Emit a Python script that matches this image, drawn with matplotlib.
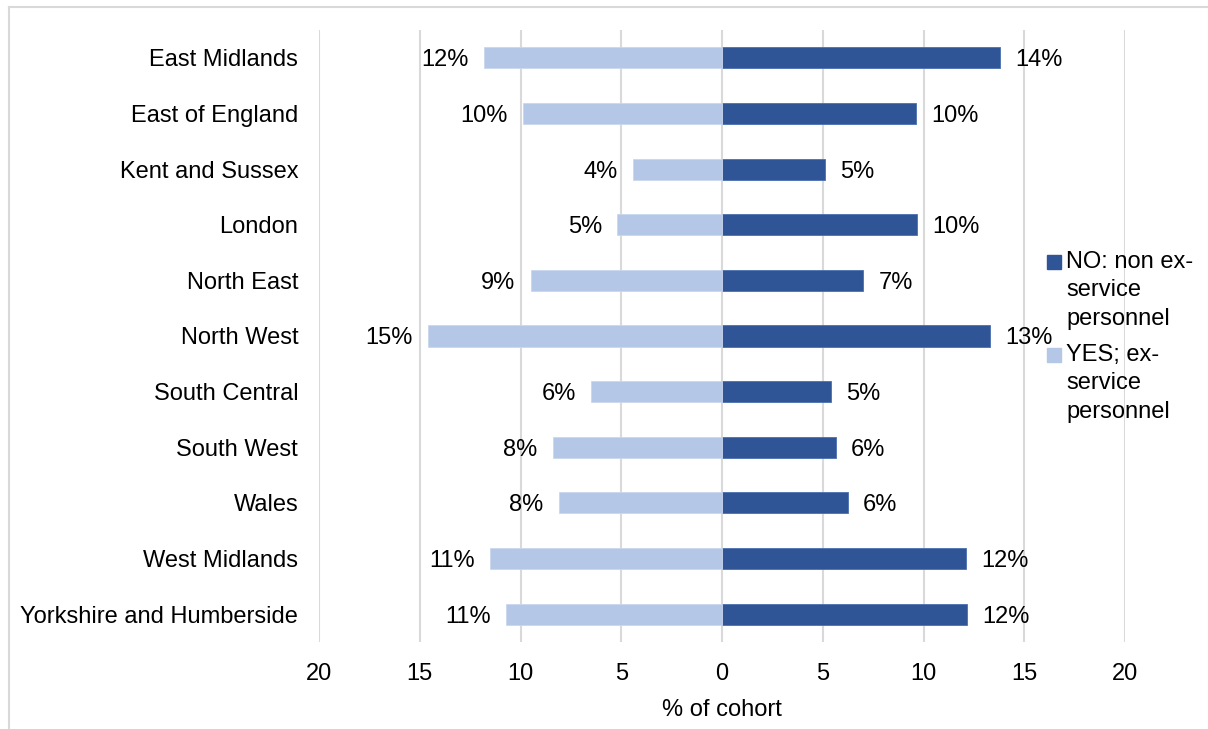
import matplotlib.pyplot as plt
from matplotlib.patches import Rectangle

plt.rcParams["font.family"] = ["Liberation Sans", "DejaVu Sans"]

# --- data ---
regions = [
    "East Midlands", "East of England", "Kent and Sussex", "London",
    "North East", "North West", "South Central", "South West",
    "Wales", "West Midlands", "Yorkshire and Humberside",
]
# YES; ex-service personnel (drawn to the left)
yes_vals = [11.8, 9.9, 4.4, 5.2, 9.5, 14.6, 6.5, 8.4, 8.1, 11.5, 10.7]
yes_labels = ["12%", "10%", "4%", "5%", "9%", "15%", "6%", "8%", "8%", "11%", "11%"]
# NO: non ex-service personnel (drawn to the right)
no_vals = [13.8, 9.65, 5.1, 9.7, 7.0, 13.3, 5.4, 5.65, 6.25, 12.1, 12.15]
no_labels = ["14%", "10%", "5%", "10%", "7%", "13%", "5%", "6%", "6%", "12%", "12%"]

x_ticks = [-20, -15, -10, -5, 0, 5, 10, 15, 20]
x_ticklabels = ["20", "15", "10", "5", "0", "5", "10", "15", "20"]

dark = "#2F5597"
light = "#B4C7E7"
grid_c = "#D9D9D9"
fs = 17

fig = plt.figure(figsize=(12.08, 7.29), dpi=100)
ax = fig.add_axes([319 / 1208, 87 / 729, 806 / 1208, 612 / 729])

y = list(range(len(regions)))
neg = [-v for v in yes_vals]
b_no = ax.barh(y, no_vals, height=0.38, color=dark, edgecolor="#4A6FAF",
               linewidth=0.6, zorder=3)
b_yes = ax.barh(y, neg, height=0.38, color=light, edgecolor="#C9D7EE",
                linewidth=0.6, zorder=3)
txts = ax.bar_label(b_no, labels=no_labels, padding=11, fontsize=fs)
txts += ax.bar_label(b_yes, labels=yes_labels, padding=11, fontsize=fs)
for t in txts:
    t.set_va("center_baseline")

ax.set_xlim(-20, 20)
ax.set_ylim(len(regions) - 0.5, -0.5)
ax.set_xticks(x_ticks)
ax.set_xticklabels(x_ticklabels)
ax.set_yticks(y)
ax.set_yticklabels(regions)
ax.tick_params(axis="both", length=0, labelsize=fs)
ax.tick_params(axis="y", pad=15)
ax.tick_params(axis="x", pad=15)
ax.xaxis.grid(True, color=grid_c, linewidth=1.5, zorder=0)
ax.set_axisbelow(True)
for s in ax.spines.values():
    s.set_visible(False)
ax.set_xlabel("% of cohort", fontsize=fs, labelpad=10)

# legend drawn by hand so the swatch sits on the first text line
leg = [(dark, "NO: non ex-\nservice\npersonnel", 255),
       (light, "YES; ex-\nservice\npersonnel", 348)]
for col, txt, top in leg:
    fig.patches.append(Rectangle((1047 / 1208, 1 - (top + 14) / 729), 14 / 1208, 14 / 729,
                                 transform=fig.transFigure, color=col))
    fig.text(1066 / 1208, 1 - (top - 4) / 729, txt, fontsize=fs, va="top",
             ha="left", linespacing=1.38)

# light outer frame
fig.add_artist(plt.Line2D([9 / 1208, 9 / 1208], [0, 1 - 7 / 729],
                          transform=fig.transFigure, color=grid_c, lw=1.5))
fig.add_artist(plt.Line2D([9 / 1208, 1], [1 - 7 / 729, 1 - 7 / 729],
                          transform=fig.transFigure, color=grid_c, lw=1.5))

fig.savefig("out.png", dpi=100)
